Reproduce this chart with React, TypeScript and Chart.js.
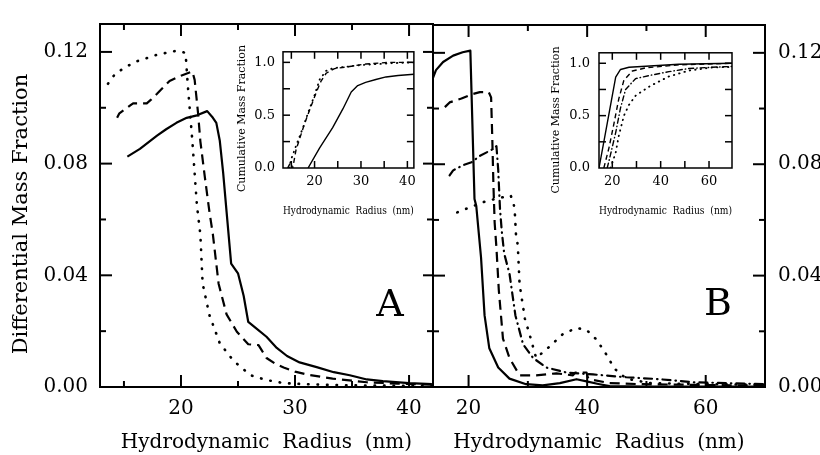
import React, { useEffect, useRef } from "react";
import { Chart, registerables } from "chart.js";

Chart.register(...registerables);

const FONT = '"DejaVu Serif", serif';
const X_TITLE = "Hydrodynamic  Radius  (nm)";
const Y_TITLE = "Differential Mass Fraction";
const INSET_Y_TITLE = "Cumulative Mass Fraction";

// ---------- Panel A : differential mass fraction ----------
const aSolidX = [15.3, 16.4, 17.9, 18.7, 19.6, 20.5, 21.4, 22.3, 22.8, 23.1, 23.4, 23.7, 24.0, 24.4, 25.0, 25.5, 25.9, 26.6, 27.5, 28.4, 29.3, 30.4, 31.9, 33.4, 34.8, 36.3, 37.7, 40.0, 42.0];
const aSolidY = [0.0825, 0.0853, 0.090, 0.0923, 0.0946, 0.0964, 0.0973, 0.0988, 0.0964, 0.0946, 0.0883, 0.0767, 0.0627, 0.0442, 0.0407, 0.0326, 0.0233, 0.021, 0.018, 0.014, 0.0111, 0.0088, 0.0071, 0.0053, 0.0042, 0.0027, 0.0021, 0.0014, 0.001];

const aDashX = [14.4, 14.6, 15.8, 17.0, 17.4, 17.9, 19.0, 20.0, 21.0, 21.2, 21.5, 21.7, 22.1, 22.5, 22.8, 23.3, 24.0, 24.9, 25.9, 26.8, 27.5, 28.2, 29.0, 30.0, 31.0, 33.3, 36.3, 39.0, 42.0];
const aDashY = [0.0964, 0.098, 0.1016, 0.1016, 0.103, 0.105, 0.1096, 0.1115, 0.113, 0.110, 0.098, 0.088, 0.075, 0.0626, 0.0546, 0.037, 0.026, 0.0198, 0.0153, 0.015, 0.0104, 0.0085, 0.007, 0.0055, 0.0045, 0.003, 0.0017, 0.0012, 0.0008];

const aDotX = [13.6, 14.2, 15.1, 16.1, 17.9, 19.6, 20.4, 20.6, 21.0, 21.4, 21.7, 21.9, 22.5, 23.4, 24.6, 26.1, 27.5, 29.0, 31.0, 33.3, 37.0, 42.0];
const aDotY = [0.1086, 0.112, 0.1145, 0.1166, 0.119, 0.1204, 0.1197, 0.108, 0.088, 0.065, 0.0546, 0.037, 0.0257, 0.0157, 0.0094, 0.0042, 0.0025, 0.0014, 0.001, 0.0007, 0.0005, 0.0004];

// ---------- Panel B : differential mass fraction ----------
const bSolidX = [14.0, 14.5, 15.7, 17.4, 19.0, 20.3, 21.0, 21.3, 21.6, 22.1, 22.7, 23.5, 25.0, 26.9, 29.7, 32.5, 35.4, 38.2, 39.9, 42.1, 43.8, 50, 60, 70];
const bSolidY = [0.111, 0.1138, 0.1167, 0.119, 0.1202, 0.1208, 0.0675, 0.065, 0.058, 0.0466, 0.0257, 0.0139, 0.007, 0.003, 0.001, 0.0006, 0.0014, 0.0028, 0.002, 0.001, 0.0003, 0.0001, 0.0001, 0.0001];

const bDashX = [16.0, 16.8, 18.8, 20.5, 21.9, 23.4, 23.8, 24.0, 24.2, 24.4, 24.7, 25.1, 25.8, 26.9, 28.6, 31.4, 34.8, 37.6, 38.0, 39.9, 40.1, 40.4, 43.8, 49.4, 60.7, 70];
const bDashY = [0.1005, 0.1022, 0.1036, 0.1051, 0.1059, 0.1059, 0.104, 0.0894, 0.072, 0.059, 0.050, 0.0348, 0.0174, 0.0104, 0.0042, 0.0042, 0.0049, 0.0042, 0.0052, 0.0052, 0.0035, 0.0028, 0.0014, 0.001, 0.0007, 0.0005];

const bDashDotX = [16.8, 17.4, 19.0, 20.5, 21.9, 24.1, 24.7, 25.0, 25.3, 25.6, 26.0, 26.9, 27.9, 29.2, 30.9, 33.1, 36.5, 41.0, 46.6, 52.2, 57.9, 63.5, 70];
const bDashDotY = [0.076, 0.0778, 0.0796, 0.0807, 0.083, 0.0854, 0.0865, 0.078, 0.064, 0.056, 0.048, 0.0407, 0.0257, 0.0153, 0.0104, 0.007, 0.0052, 0.0045, 0.0035, 0.0028, 0.0017, 0.0014, 0.001];

const bDotX = [18.1, 19.6, 23.0, 27.1, 27.6, 27.8, 28.0, 28.3, 28.6, 29.5, 30.3, 31.4, 33.7, 35.9, 38.2, 39.9, 41.6, 43.2, 44.6, 46.6, 50.5, 55.1, 62, 70];
const bDotY = [0.0627, 0.064, 0.0668, 0.0688, 0.066, 0.0627, 0.0546, 0.051, 0.037, 0.0245, 0.0188, 0.0104, 0.0146, 0.019, 0.0212, 0.0205, 0.017, 0.0118, 0.0066, 0.003, 0.0014, 0.0012, 0.001, 0.0008];

// ---------- Inset A : cumulative mass fraction ----------
const iaSolidX = [18.6, 21.1, 23.9, 26.1, 27.9, 29.3, 31.0, 33.2, 35.4, 38.0, 41.4];
const iaSolidY = [0, 0.19, 0.382, 0.559, 0.72, 0.78, 0.81, 0.838, 0.862, 0.876, 0.888];

const iaDashX = [14.2, 14.8, 15.3, 16.0, 16.8, 17.9, 18.9, 20.4, 21.4, 22.5, 24.3, 26.8, 31.1, 36.1, 41.4];
const iaDashY = [0, 0.05, 0.0, 0.17, 0.279, 0.426, 0.544, 0.72, 0.823, 0.897, 0.941, 0.956, 0.985, 1.0, 1.0];

const iaDotX = [14.5, 15.0, 16.1, 17.5, 18.9, 20.0, 21.1, 22.5, 24.0, 26.8, 30.0, 33.9, 37.0, 41.4];
const iaDotY = [0, 0.088, 0.22, 0.382, 0.559, 0.69, 0.838, 0.92, 0.945, 0.958, 0.975, 0.985, 0.993, 1.0];

// ---------- Inset B : cumulative mass fraction ----------
const ibSolidX = [14.5, 17.2, 20.0, 21.4, 23.4, 26.9, 33.8, 47.5, 69.5];
const ibSolidY = [0, 0.338, 0.69, 0.868, 0.941, 0.962, 0.971, 0.991, 1.0];

const ibDashX = [16.5, 18.6, 20.7, 22.7, 24.8, 28.3, 33.8, 47.5, 69.5];
const ibDashY = [0, 0.19, 0.426, 0.662, 0.838, 0.926, 0.956, 0.985, 1.0];

const ibDashDotX = [17.9, 19.3, 21.4, 23.4, 25.5, 29.6, 35.1, 43.4, 51.7, 61.3, 69.5];
const ibDashDotY = [0, 0.132, 0.338, 0.574, 0.75, 0.853, 0.882, 0.92, 0.95, 0.962, 0.97];

const ibDotX = [19.3, 21.4, 22.7, 24.8, 26.9, 29.6, 35.8, 43.4, 51.7, 61.3, 69.5];
const ibDotY = [0, 0.147, 0.309, 0.5, 0.603, 0.69, 0.785, 0.874, 0.93, 0.96, 0.965];

// tick values
const aXMajor = [20, 30, 40];
const aXMinor = [15, 25, 35];
const bXMajor = [20, 40, 60];
const bXMinor = [30, 50];
const mainYMajor = [0.04, 0.08, 0.12];
const mainYMinor = [0.02, 0.06, 0.1];
const iaXTicks = [15, 20, 25, 30, 35, 40];
const ibXTicks = [20, 30, 40, 50, 60];
const insetYTicks = [0.25, 0.5, 0.75, 1.0];

// ---------- helpers ----------
const pts = (xs: number[], ys: number[]) => xs.map((x, i) => ({ x, y: ys[i] }));

const MAIN_STYLE = {
  solid: { dash: [] as number[], w: 2.2, cap: "butt" },
  dash: { dash: [10, 6], w: 2.2, cap: "butt" },
  dashdot: { dash: [8, 5, 0.5, 5], w: 2.2, cap: "round" },
  dot: { dash: [0.5, 9], w: 2.6, cap: "round" },
};
const INSET_STYLE = {
  solid: { dash: [] as number[], w: 1.4, cap: "butt" },
  dash: { dash: [5, 3.5], w: 1.4, cap: "butt" },
  dashdot: { dash: [5, 3, 0.5, 3], w: 1.4, cap: "round" },
  dot: { dash: [0.5, 5], w: 1.8, cap: "round" },
};

function line(xs: number[], ys: number[], st: any) {
  return {
    data: pts(xs, ys),
    borderColor: "#000",
    borderWidth: st.w,
    borderDash: st.dash,
    borderCapStyle: st.cap,
    borderJoinStyle: "round",
    pointRadius: 0,
    fill: false,
    tension: 0,
  };
}

function framePlugin(o: any) {
  return {
    id: "frame",
    beforeDatasetsDraw(chart: any) {
      if (!o.bg) return;
      const { ctx, chartArea: a } = chart;
      ctx.save();
      ctx.fillStyle = "#fff";
      ctx.fillRect(a.left, a.top, a.right - a.left, a.bottom - a.top);
      ctx.restore();
    },
    afterDatasetsDraw(chart: any) {
      const { ctx, chartArea: a, scales } = chart;
      const xs = scales.x;
      const ys = scales.y;
      ctx.save();
      ctx.strokeStyle = "#000";
      ctx.lineWidth = o.lw;
      ctx.setLineDash([]);
      ctx.lineCap = "butt";
      const seg = (x1: number, y1: number, x2: number, y2: number) => {
        ctx.beginPath();
        ctx.moveTo(x1, y1);
        ctx.lineTo(x2, y2);
        ctx.stroke();
      };
      const xt = (vals: number[], len: number) =>
        vals.forEach((v) => {
          const p = xs.getPixelForValue(v);
          seg(p, a.bottom, p, a.bottom - len);
          seg(p, a.top, p, a.top + len);
        });
      const yt = (vals: number[], lenL: number, lenR: number) =>
        vals.forEach((v) => {
          const p = ys.getPixelForValue(v);
          if (lenL) seg(a.left, p, a.left + lenL, p);
          if (lenR) seg(a.right, p, a.right - lenR, p);
        });
      xt(o.xMajor, o.major);
      xt(o.xMinor || [], o.minor);
      yt(o.yMajor, o.leftMajor, o.rightMajor);
      yt(o.yMinor || [], o.leftMinor, o.rightMinor);
      ctx.strokeRect(a.left, a.top, a.right - a.left, a.bottom - a.top);
      ctx.restore();
    },
  };
}

function textPlugin(items: any[]) {
  return {
    id: "texts",
    afterDraw(chart: any) {
      const ctx = chart.ctx;
      items.forEach((it) => {
        ctx.save();
        ctx.translate(it.x, it.y);
        ctx.rotate(it.rot || 0);
        ctx.font = `${it.size}px ${FONT}`;
        ctx.fillStyle = "#000";
        ctx.textAlign = "center";
        ctx.textBaseline = "middle";
        ctx.fillText(it.text, 0, 0);
        ctx.restore();
      });
    },
  };
}

function makeConfig(p: any) {
  const tickFont = { family: FONT, size: p.tickSize };
  return {
    type: "line",
    data: { datasets: p.datasets },
    options: {
      animation: false,
      responsive: false,
      maintainAspectRatio: false,
      events: [],
      layout: { padding: p.padding },
      plugins: { legend: { display: false }, tooltip: { enabled: false } },
      scales: {
        x: {
          type: "linear",
          min: p.xMin,
          max: p.xMax,
          grid: { display: false, drawTicks: false },
          border: { display: false },
          ticks: {
            stepSize: p.xStep,
            includeBounds: false,
            autoSkip: false,
            maxRotation: 0,
            padding: p.xPad,
            color: "#000",
            font: tickFont,
          },
          title: {
            display: true,
            text: X_TITLE,
            color: "#000",
            font: { family: FONT, size: p.titleSize },
            padding: { top: 0, bottom: p.titlePad },
          },
          afterFit: (s: any) => {
            s.height = p.xHeight;
          },
        },
        y: {
          type: "linear",
          position: p.yPos,
          min: p.yMin,
          max: p.yMax,
          grid: { display: false, drawTicks: false },
          border: { display: false },
          ticks: {
            stepSize: p.yStep,
            includeBounds: false,
            autoSkip: false,
            padding: p.yPad,
            color: "#000",
            font: tickFont,
            callback: (v: number) => v.toFixed(p.yDec),
          },
          afterFit: (s: any) => {
            s.width = p.yWidth;
          },
        },
      },
    },
    plugins: [framePlugin(p.frame), textPlugin(p.texts)],
  };
}

export default function App() {
  const refA = useRef<HTMLCanvasElement>(null);
  const refB = useRef<HTMLCanvasElement>(null);
  const refIA = useRef<HTMLCanvasElement>(null);
  const refIB = useRef<HTMLCanvasElement>(null);

  useEffect(() => {
    const charts: Chart[] = [];
    const M = MAIN_STYLE;
    const I = INSET_STYLE;

    charts.push(
      new Chart(
        refA.current as HTMLCanvasElement,
        makeConfig({
          datasets: [line(aSolidX, aSolidY, M.solid), line(aDashX, aDashY, M.dash), line(aDotX, aDotY, M.dot)],
          padding: { top: 13, right: 7, left: 0, bottom: 0 },
          xMin: 12.9, xMax: 42.1, xStep: 10, xPad: 10, xHeight: 68,
          yMin: 0, yMax: 0.13, yStep: 0.04, yPad: 12, yWidth: 100, yPos: "left", yDec: 2,
          tickSize: 20, titleSize: 20, titlePad: 0,
          frame: {
            lw: 2, xMajor: aXMajor, xMinor: aXMinor, major: 12, minor: 6,
            yMajor: mainYMajor, yMinor: mainYMinor, leftMajor: 12, leftMinor: 6, rightMajor: 10, rightMinor: 6,
          },
          texts: [
            { text: Y_TITLE, x: 22, y: 214, rot: -Math.PI / 2, size: 21 },
            { text: "A", x: 390, y: 306, size: 38 },
          ],
        }) as any
      )
    );

    charts.push(
      new Chart(
        refB.current as HTMLCanvasElement,
        makeConfig({
          datasets: [
            line(bSolidX, bSolidY, M.solid),
            line(bDashX, bDashY, M.dash),
            line(bDashDotX, bDashDotY, M.dashdot),
            line(bDotX, bDotY, M.dot),
          ],
          padding: { top: 13, right: 0, left: 5, bottom: 0 },
          xMin: 14, xMax: 70, xStep: 20, xPad: 10, xHeight: 68,
          yMin: 0, yMax: 0.13, yStep: 0.04, yPad: 13, yWidth: 55, yPos: "right", yDec: 2,
          tickSize: 20, titleSize: 20, titlePad: 0,
          frame: {
            lw: 2, xMajor: bXMajor, xMinor: bXMinor, major: 12, minor: 6,
            yMajor: mainYMajor, yMinor: mainYMinor, leftMajor: 12, leftMinor: 6, rightMajor: 12, rightMinor: 6,
          },
          texts: [{ text: "B", x: 290, y: 305, size: 38 }],
        }) as any
      )
    );

    charts.push(
      new Chart(
        refIA.current as HTMLCanvasElement,
        makeConfig({
          datasets: [line(iaSolidX, iaSolidY, I.solid), line(iaDashX, iaDashY, I.dash), line(iaDotX, iaDotY, I.dot)],
          padding: { top: 8, right: 7, left: 0, bottom: 0 },
          xMin: 13.2, xMax: 41.4, xStep: 10, xPad: 6, xHeight: 54,
          yMin: 0, yMax: 1.1, yStep: 0.5, yPad: 8, yWidth: 51, yPos: "left", yDec: 1,
          tickSize: 13, titleSize: 11, titlePad: 4,
          frame: {
            lw: 1.5, bg: true, xMajor: iaXTicks, major: 7, minor: 7,
            yMajor: insetYTicks, leftMajor: 7, rightMajor: 7,
          },
          texts: [{ text: INSET_Y_TITLE, x: 10.5, y: 82.5, rot: -Math.PI / 2, size: 11 }],
        }) as any
      )
    );

    charts.push(
      new Chart(
        refIB.current as HTMLCanvasElement,
        makeConfig({
          datasets: [
            line(ibSolidX, ibSolidY, I.solid),
            line(ibDashX, ibDashY, I.dash),
            line(ibDashDotX, ibDashDotY, I.dashdot),
            line(ibDotX, ibDotY, I.dot),
          ],
          padding: { top: 8, right: 8, left: 0, bottom: 0 },
          xMin: 14.5, xMax: 69.5, xStep: 20, xPad: 6, xHeight: 54,
          yMin: 0, yMax: 1.1, yStep: 0.5, yPad: 9, yWidth: 54, yPos: "left", yDec: 1,
          tickSize: 13, titleSize: 11, titlePad: 4,
          frame: {
            lw: 1.5, bg: true, xMajor: ibXTicks, major: 7, minor: 7,
            yMajor: insetYTicks, leftMajor: 7, rightMajor: 7,
          },
          texts: [{ text: INSET_Y_TITLE, x: 11, y: 84, rot: -Math.PI / 2, size: 11 }],
        }) as any
      )
    );

    return () => charts.forEach((c) => c.destroy());
  }, []);

  const abs = (left: number, top: number): React.CSSProperties => ({ position: "absolute", left, top });

  return (
    <div style={{ position: "fixed", left: 0, top: 0, width: 820, height: 455, background: "#fff", overflow: "hidden" }}>
      <canvas ref={refA} width={440} height={455} style={abs(0, 0)} />
      <canvas ref={refB} width={392} height={455} style={abs(428, 0)} />
      <canvas ref={refIA} width={190} height={186} style={abs(232, 36)} />
      <canvas ref={refIB} width={195} height={186} style={abs(545, 36)} />
    </div>
  );
}
